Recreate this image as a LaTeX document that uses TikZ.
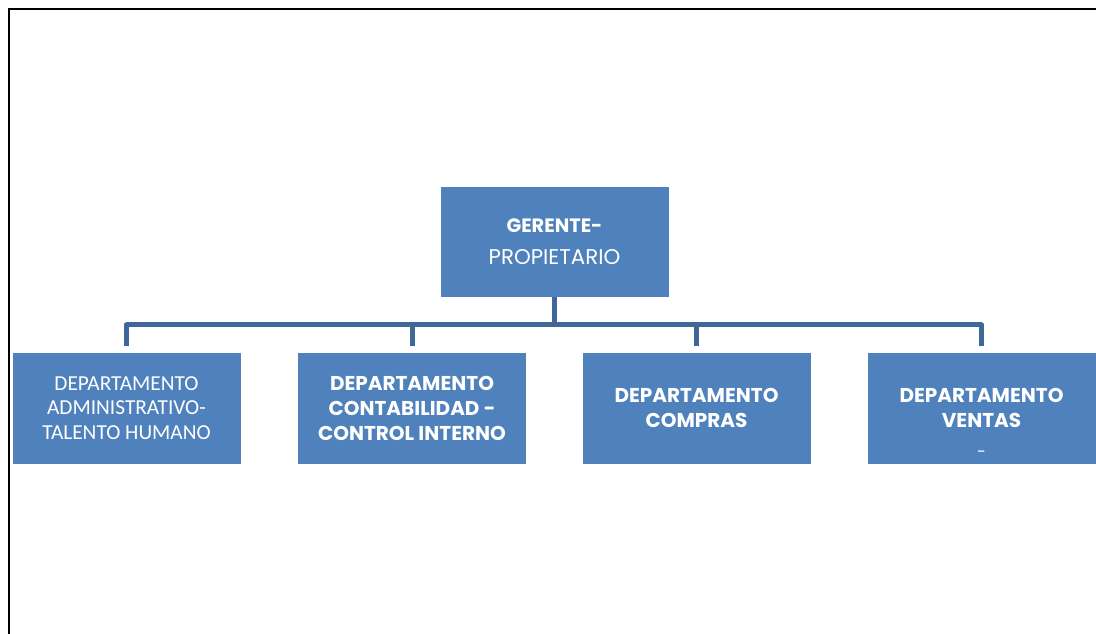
\documentclass[tikz,border=0pt]{standalone}
\usepackage{fontspec}
\setmainfont{Poppins}
\newfontfamily\calib{Carlito}
\definecolor{boxblue}{HTML}{4F81BD}
\definecolor{linkblue}{HTML}{3F6798}
\tikzset{
  orgbox/.style={fill=boxblue, draw=white, line width=0.5pt, minimum width=171.75pt,
    minimum height=84pt, inner sep=0pt, text=white, align=center},
  boldtxt/.style={font=\fontsize{15}{18.75}\selectfont\bfseries},
  conn/.style={draw=linkblue, line width=3.75pt, line join=round},
  frame/.style={draw=black, line width=1.5pt}
}
\begin{document}
\begin{tikzpicture}[x=0.75pt,y=-0.75pt]
\useasboundingbox (0,0) rectangle (1096,634);
\draw[frame] (8.5,645) -- (8.5,9.5) -- (1115,9.5);

\node[orgbox, minimum height=83.25pt] (top) at (554.5,241.5)
  {{\fontsize{14.5}{18.75}\selectfont\bfseries GERENTE-}\\[12pt]
   {\fontsize{16}{18.75}\selectfont PROPIETARIO}};

\node[orgbox, font=\calib\fontsize{16}{18.4}\selectfont] (c1) at (126.5,408)
  {DEPARTAMENTO\\ADMINISTRATIVO-\\TALENTO HUMANO};
\node[orgbox, boldtxt] (c2) at (412,408)
  {DEPARTAMENTO\\CONTABILIDAD -\\CONTROL INTERNO};
\node[orgbox, boldtxt] (c3) at (696.5,408)
  {DEPARTAMENTO\\COMPRAS};
\node[orgbox, boldtxt] (c4) at (981.5,408)
  {DEPARTAMENTO\\VENTAS};
\node[text=white, font=\fontsize{12}{14}\selectfont, inner sep=0pt] (dash) at (981.5,454) {-};

\coordinate (bus) at (554.5,325);
\draw[conn] (top.south) -- (bus);
\foreach \c in {c1,c2,c3,c4}{
  \draw[conn, shorten <=4pt] (\c.north) -- (\c.north |- bus) -- (bus);
}
\end{tikzpicture}
\end{document}
